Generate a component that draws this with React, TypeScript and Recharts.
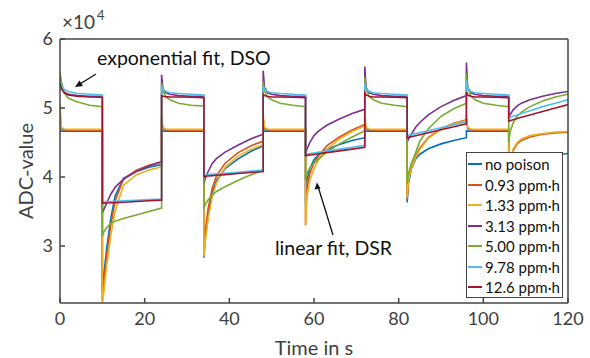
import { LineChart, Line, XAxis, YAxis, Legend } from 'recharts';

// sample times: 10 s "high" phases, 14 s "low" phases, switch points repeated
const time = [
  0, 0.3, 1, 2, 4, 7, 10,
  10, 10.3, 11, 12, 13, 15, 18, 21, 24,
  24, 24.3, 25, 26, 28, 31, 34,
  34, 34.3, 35, 36, 37, 39, 42, 45, 48,
  48, 48.3, 49, 50, 52, 55, 58,
  58, 58.3, 59, 60, 61, 63, 66, 69, 72,
  72, 72.3, 73, 74, 76, 79, 82,
  82, 82.3, 83, 84, 85, 87, 90, 93, 96,
  96, 96.3, 97, 98, 100, 103, 106,
  106, 106.3, 107, 108, 109, 111, 114, 117, 120,
];

const noPoison = [
  46700, 46650, 46650, 46650, 46650, 46650, 46650,
  23500, 25500, 29500, 34000, 37200, 39800, 40800, 41400, 41800,
  46700, 46650, 46650, 46650, 46650, 46650, 46650,
  28300, 31000, 34500, 37800, 39500, 41200, 42600, 43700, 44500,
  46700, 46650, 46650, 46650, 46650, 46650, 46650,
  36000, 39500, 41200, 42500, 43200, 44000, 44700, 45300, 45700,
  46700, 46650, 46650, 46650, 46650, 46650, 46650,
  36300, 39000, 41200, 42600, 43300, 44100, 44800, 45300, 45700,
  46700, 46650, 46650, 46650, 46650, 46650, 46650,
  37000, 39500, 41000, 41700, 42100, 42600, 43000, 43200, 43400,
];

const ppm093 = [
  49500, 47000, 46850, 46800, 46800, 46800, 46800,
  22000, 24500, 28500, 33000, 36500, 39700, 41000, 41700, 42200,
  48500, 47000, 46850, 46800, 46800, 46800, 46800,
  29000, 32000, 35500, 38500, 40200, 42000, 43500, 44500, 45200,
  48500, 47000, 46850, 46800, 46800, 46800, 46800,
  33000, 38000, 40500, 42000, 43000, 44500, 45800, 46800, 47600,
  48500, 47000, 46850, 46800, 46800, 46800, 46800,
  36700, 39500, 41500, 43000, 44200, 45700, 47000, 47800, 48300,
  48500, 47000, 46850, 46800, 46800, 46800, 46800,
  39000, 42000, 43800, 44800, 45300, 45800, 46200, 46400, 46500,
];

const ppm133 = [
  50500, 47200, 46950, 46900, 46900, 46900, 46900,
  21750, 23000, 27000, 31500, 35000, 38800, 40300, 41000, 41500,
  49000, 47200, 46950, 46900, 46900, 46900, 46900,
  28500, 30500, 34000, 37200, 39200, 41400, 43000, 44000, 44700,
  49000, 47200, 46950, 46900, 46900, 46900, 46900,
  33000, 37000, 39500, 41200, 42400, 44000, 45500, 46600, 47400,
  49000, 47200, 46950, 46900, 46900, 46900, 46900,
  37000, 39500, 41300, 42800, 44000, 45600, 46900, 47700, 48200,
  49000, 47200, 46950, 46900, 46900, 46900, 46900,
  39500, 42200, 44000, 45000, 45500, 46000, 46300, 46500, 46600,
];

const ppm313 = [
  55000, 53000, 52300, 52000, 51800, 51700, 51700,
  34800, 35200, 36200, 37500, 38500, 39700, 40800, 41600, 42200,
  54800, 52800, 52200, 52000, 51800, 51700, 51700,
  39000, 39800, 40800, 42000, 42700, 43600, 44600, 45500, 46200,
  55400, 53000, 52200, 52000, 51800, 51700, 51700,
  43000, 44000, 45000, 46000, 46600, 47500, 48400, 49200, 49800,
  56000, 53000, 52200, 52000, 51800, 51700, 51700,
  45000, 45500, 46200, 47200, 47900, 49000, 50200, 51100, 51800,
  56600, 53000, 52200, 52000, 51800, 51700, 51700,
  48500, 49000, 49700, 50300, 50700, 51200, 51700, 52100, 52400,
];

const ppm500 = [
  55200, 53800, 52200, 51400, 50900, 50400, 50200,
  31400, 32000, 32600, 33300, 33600, 34000, 34500, 35000, 35500,
  53600, 52500, 51600, 51200, 50700, 50400, 50300,
  35500, 36000, 36700, 37400, 37900, 38600, 39500, 40300, 41000,
  53800, 52500, 51600, 51200, 50700, 50400, 50200,
  39500, 40500, 41300, 42000, 42600, 43600, 44800, 45800, 46700,
  54500, 52800, 51700, 51200, 50700, 50400, 50200,
  39000, 40500, 42000, 43500, 45200, 47000, 48800, 49900, 50700,
  55000, 53000, 51800, 51200, 50700, 50400, 50200,
  45000, 46500, 47800, 48800, 49400, 50200, 51000, 51600, 52000,
];

const ppm978 = [
  54000, 53200, 52700, 52400, 52100, 52000, 51900,
  36400, 36410, 36430, 36460, 36490, 36550, 36640, 36720, 36800,
  53200, 52700, 52400, 52200, 52100, 52000, 51900,
  40300, 40320, 40350, 40400, 40450, 40550, 40700, 40850, 41000,
  53200, 52700, 52400, 52200, 52100, 52000, 51900,
  43300, 43330, 43390, 43480, 43570, 43760, 44040, 44320, 44600,
  53500, 52800, 52400, 52200, 52100, 52000, 51900,
  46000, 46040, 46140, 46290, 46430, 46710, 47140, 47570, 48000,
  54000, 52900, 52400, 52200, 52100, 52000, 51900,
  48500, 48600, 48800, 49000, 49200, 49600, 50200, 50700, 51200,
];

const ppm126 = [
  53600, 52800, 52200, 51900, 51700, 51600, 51550,
  36200, 36210, 36230, 36260, 36290, 36350, 36450, 36550, 36650,
  51800, 51700, 51650, 51600, 51600, 51550, 51500,
  40100, 40120, 40150, 40200, 40250, 40350, 40500, 40650, 40800,
  52000, 51800, 51700, 51600, 51600, 51550, 51500,
  43100, 43130, 43190, 43270, 43360, 43530, 43790, 44040, 44300,
  52200, 51900, 51700, 51600, 51600, 51550, 51500,
  45700, 45740, 45840, 45990, 46130, 46410, 46840, 47270, 47700,
  52300, 51900, 51700, 51600, 51600, 51550, 51500,
  48100, 48160, 48300, 48480, 48660, 49000, 49500, 50000, 50500,
];

const series = [
  { key: 's0', name: 'no poison', color: '#0072BD', values: noPoison },
  { key: 's1', name: '0.93 ppm\u00b7h', color: '#D95319', values: ppm093 },
  { key: 's2', name: '1.33 ppm\u00b7h', color: '#EDB120', values: ppm133 },
  { key: 's3', name: '3.13 ppm\u00b7h', color: '#7E2F8E', values: ppm313 },
  { key: 's4', name: '5.00 ppm\u00b7h', color: '#77AC30', values: ppm500 },
  { key: 's5', name: '9.78 ppm\u00b7h', color: '#4DBEEE', values: ppm978 },
  { key: 's6', name: '12.6 ppm\u00b7h', color: '#A2142F', values: ppm126 },
];

const xTicks = [0, 20, 40, 60, 80, 100, 120];
const yTicks = [30000, 40000, 50000, 60000];
const yDomain = [21740, 60000];

const rows = time.map((t, i) => {
  const row: any = { t };
  series.forEach(s => { row[s.key] = s.values[i]; });
  return row;
});

const axisColor = '#444';
const font = 'Lato, "Open Sans", sans-serif';

const renderLegend = () => (
  <div style={{
    width: 97, height: 146, boxSizing: 'border-box', border: `1.5px solid ${axisColor}`,
    background: '#fff', paddingTop: 1, fontFamily: font, fontSize: 15, color: '#111',
  }}>
    {series.map(s => (
      <div key={s.key} style={{ display: 'flex', alignItems: 'center', height: 20.5 }}>
        <div style={{ width: 14, height: 2, background: s.color, marginLeft: 1, marginRight: 3 }} />
        <span style={{ whiteSpace: 'nowrap' }}>{s.name}</span>
      </div>
    ))}
  </div>
);

export default function App() {
  return (
    <div style={{ position: 'absolute', left: 0, top: 0, width: 590, height: 358, background: '#fff', fontFamily: font }}>
      <LineChart width={590} height={358} data={rows} margin={{ top: 38, right: 21, bottom: 25, left: 20 }}>
        <XAxis
          type="number" dataKey="t" domain={[0, 120]} ticks={xTicks} allowDataOverflow
          height={30} stroke={axisColor} strokeWidth={1.5} tickSize={-5} tickMargin={14}
          tick={{ fill: '#404040', fontSize: 18, fontFamily: font }}
        />
        <XAxis
          xAxisId="top" orientation="top" type="number" dataKey="t" domain={[0, 120]} ticks={xTicks}
          allowDataOverflow height={1} stroke={axisColor} strokeWidth={1.5} tickSize={-5} tick={false}
        />
        <YAxis
          type="number" domain={yDomain} ticks={yTicks} allowDataOverflow width={40}
          stroke={axisColor} strokeWidth={1.5} tickSize={-5} tickMargin={12}
          tickFormatter={(v: number) => String(v / 10000)}
          tick={{ fill: '#404040', fontSize: 18, fontFamily: font }}
        />
        <YAxis
          yAxisId="right" orientation="right" type="number" domain={yDomain} ticks={yTicks}
          allowDataOverflow width={1} stroke={axisColor} strokeWidth={1.5} tickSize={-5} tick={false}
        />
        {series.map(s => (
          <Line
            key={s.key} type="linear" dataKey={s.key} name={s.name} stroke={s.color}
            strokeWidth={1.6} dot={false} activeDot={false} isAnimationActive={false}
          />
        ))}
        <Legend
          layout="vertical" align="center" verticalAlign="middle" content={renderLegend}
          wrapperStyle={{ left: 466, top: 152, width: 97, height: 146 }}
        />
      </LineChart>
      <svg width={590} height={358} style={{ position: 'absolute', left: 0, top: 0, pointerEvents: 'none' }}>
        <text x={62} y={29} fill="#404040" fontSize={19} fontFamily={font}>
          {'\u00d710'}
        </text>
        <text x={97} y={20} fill="#404040" fontSize={13} fontFamily={font}>4</text>
        <text x={25} y={171} fill="#404040" fontSize={20} fontFamily={font} textAnchor="middle"
          dominantBaseline="central" transform="rotate(-90 25 171)">ADC-value</text>
        <text x={314} y={355} fill="#404040" fontSize={20} fontFamily={font} textAnchor="middle">Time in s</text>
        <text x={97} y={65} fill="#111" fontSize={19.5} fontFamily={font}>exponential fit, DSO</text>
        <text x={275} y={255} fill="#111" fontSize={19.5} fontFamily={font}>linear fit, DSR</text>
        <line x1={96} y1={74} x2={80} y2={84} stroke="#111" strokeWidth={1.3} />
        <polygon points="75,87 79.5,80.5 83,86" fill="#111" />
        <line x1={333} y1={235} x2={318.5} y2={188} stroke="#111" strokeWidth={1.3} />
        <polygon points="317,182.5 314.5,189.5 320.5,188.5" fill="#111" />
      </svg>
    </div>
  );
}
